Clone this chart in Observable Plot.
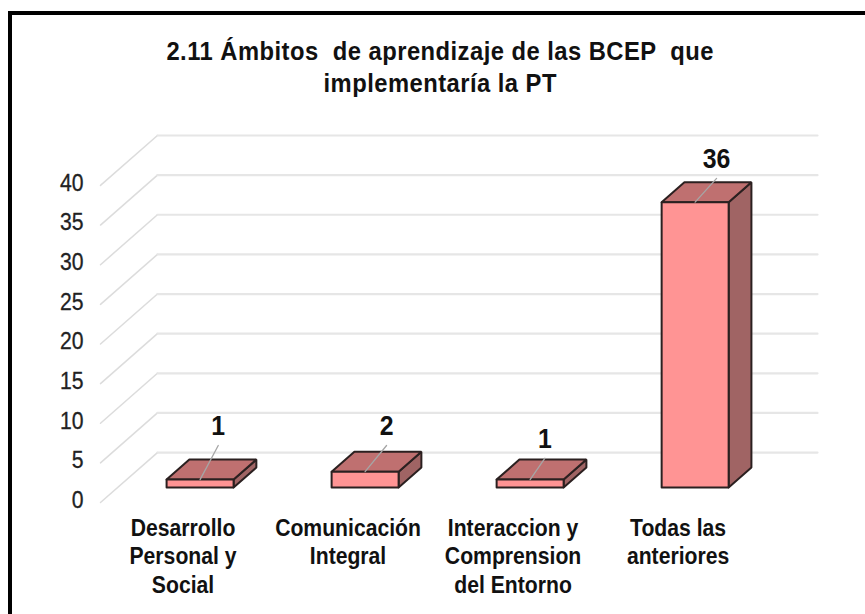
<!DOCTYPE html>
<html>
<head>
<meta charset="utf-8">
<script src="https://cdn.jsdelivr.net/npm/d3@7"></script>
<script src="https://cdn.jsdelivr.net/npm/@observablehq/plot@0.6"></script>
<style>
html,body{margin:0;padding:0;background:#fff;overflow:hidden;width:865px;height:614px}
#frame{position:absolute;left:8px;top:11px;width:900px;height:700px;box-sizing:border-box;border-left:4px solid #000;border-top:4px solid #000;pointer-events:none}
#title{height:100px;box-sizing:border-box;padding-top:35px;width:881px;text-align:center;overflow:visible}
#title span{display:inline-block;transform:scaleX(.95);transform-origin:50% 50%;font:700 25px/32px "Liberation Sans",Arial,sans-serif;color:#111;white-space:pre;letter-spacing:.5px}
#chart svg{display:block}
</style>
</head>
<body>
<div id="frame"></div>
<div id="title"><span>2.11 Ámbitos  de aprendizaje de las BCEP  que
implementaría la PT</span></div>
<div id="chart"></div>
<script>
const categories = ["Desarrollo\nPersonal y\nSocial", "Comunicación\nIntegral", "Interaccion y\nComprension\ndel Entorno", "Todas las\nanteriores"];
const values = [1, 2, 1, 36];
const yTicks = [0, 5, 10, 15, 20, 25, 30, 35, 40];
const leaderRun = [0.11, 0.13, 0.09, 0.13];
const leaderRise = [4.3, 3.3, 2.7, 3];

// Oblique 3D: depth 0..1 moves a point along the chart's floor, in data units.
const depthX = 0.345, depthY = 6.3;
const barFront = 0.3, barBack = 0.7, barGap = 0.297;
const px = (u, d) => u + d * depthX;
const py = (v, d) => v + d * depthY;

const bars = values.map((v, i) => ({i, v, x0: i + barGap, x1: i + 1 - barGap}));
const poly = (fn) => bars.flatMap(b => fn(b).map(([x, y]) => ({i: b.i, x, y})));

const front = poly(b => [[b.x0,0,barFront],[b.x1,0,barFront],[b.x1,b.v,barFront],[b.x0,b.v,barFront],[b.x0,0,barFront]]
  .map(([u,v,d]) => [px(u,d), py(v,d)]));
const top_ = poly(b => [[b.x0,barFront],[b.x1,barFront],[b.x1,barBack],[b.x0,barBack],[b.x0,barFront]]
  .map(([u,d]) => [px(u,d), py(b.v,d)]));
const side = poly(b => [[0,barFront],[b.v,barFront],[b.v,barBack],[0,barBack],[0,barFront]]
  .map(([v,d]) => [px(b.x1,d), py(v,d)]));

const grid = yTicks.flatMap(v => [
  {v, x: px(0,0), y: py(v,0)},
  {v, x: px(0,1), y: py(v,1)},
  {v, x: px(4,1), y: py(v,1)}
]);
const leaders = bars.flatMap(b => {
  const cx = px(b.i + .5, barFront), cy = py(b.v, barFront);
  return [{i:b.i, x:cx, y:cy}, {i:b.i, x:cx + leaderRun[b.i], y:cy + leaderRise[b.i]}];
});
const labels = bars.map(b => ({
  t: String(b.v),
  x: px(b.i + .5, barFront) + leaderRun[b.i],
  y: py(b.v, barFront) + leaderRise[b.i]
}));

const font = '"Liberation Sans",Arial,sans-serif';
const edge = {stroke: "#2b2020", strokeWidth: 2, strokeLinejoin: "miter", z: "i"};

const plot = Plot.plot({
  width: 865, height: 514,
  marginLeft: 100, marginRight: 48, marginTop: 35, marginBottom: 112,
  style: {background: "transparent"},
  x: {axis: null, domain: [0, 4 + depthX]},
  y: {axis: null, domain: [0, 40 + depthY]},
  marks: [
    Plot.line(grid.filter((d,i) => i % 3 < 2), {x:"x", y:"y", z:"v", stroke:"#dcdcdc", strokeWidth:1.5}),
    Plot.line(grid.filter((d,i) => i % 3 > 0), {x:"x", y:"y", z:"v", stroke:"#e6e6e6", strokeWidth:2.2}),
    Plot.line(side, {x:"x", y:"y", fill:"#a06464", ...edge}),
    Plot.line(top_, {x:"x", y:"y", fill:"#bf7070", ...edge}),
    Plot.line(front, {x:"x", y:"y", fill:"#ff9494", ...edge}),
    Plot.line(leaders, {x:"x", y:"y", z:"i", stroke:"#a6a6a6", strokeWidth:1.3}),
    Plot.text(labels, {x:"x", y:"y", text:"t", dy:-19, fontFamily:font, fontWeight:700, fontSize:27, fill:"#111"}),
    Plot.text(yTicks, {x: () => 0, y: d => d, text: d => String(d), textAnchor:"end", dx:-17, dy:-2, fontFamily:font, fontSize:23, fill:"#222", stroke:"#222", strokeWidth:.3}),
    Plot.text(categories, {x:(d,i) => i + .5, y: () => 0, text: d => d, lineAnchor:"top", lineHeight:1.24, dy:13, fontFamily:font, fontWeight:700, fontSize:23, fill:"#111"})
  ]
});
document.getElementById("chart").appendChild(plot);
// The reference's face is a condensed one: squeeze the glyphs horizontally.
plot.querySelectorAll("text").forEach(t => {
  const spans = t.querySelectorAll("tspan");
  (spans.length ? [...spans] : [t]).forEach(el => {
    el.setAttribute("textLength", el.getComputedTextLength() * 0.92);
    el.setAttribute("lengthAdjust", "spacingAndGlyphs");
  });
});
</script>
</body>
</html>
